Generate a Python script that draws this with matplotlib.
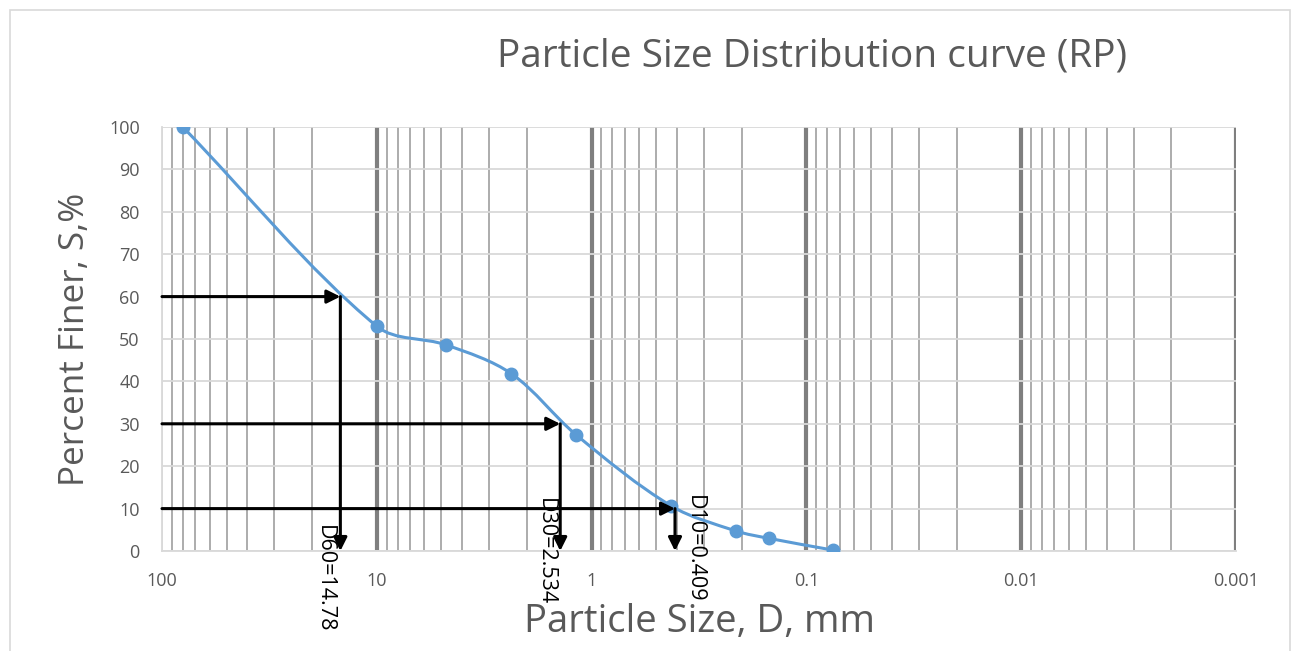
"""
Particle size distribution (sieve analysis) for sample RP.
Log x axis runs from coarse (100 mm) to fine (0.001 mm), Excel-style smoothed
curve, with D60 / D30 / D10 read-off arrows.
"""

import numpy as np
import matplotlib
matplotlib.use("Agg")                     # no display in the sandbox
import matplotlib.pyplot as plt
from matplotlib.path import Path
from matplotlib.patches import PathPatch, Rectangle

# sieve data
SIEVE_MM = [80, 10, 4.75, 2.36, 1.18, 0.425, 0.212, 0.15, 0.075]
PCT_FINER = [100, 53.0, 48.6, 41.8, 27.4, 10.6, 4.7, 3.0, 0.2]

# read-off arrows: level (% finer), where the arrow drops (mm), label text
D_LEVELS = [60, 30, 10]
D_ARROW_MM = [14.78, 1.40, 0.409]
D_LABELS = ["D60=14.78", "D30=2.534", "D10=0.409"]

X_TICKS = [100, 10, 1, 0.1, 0.01, 0.001]
X_TICKLABELS = ["100", "10", "1", "0.1", "0.01", "0.001"]
Y_TICKS = list(range(0, 101, 10))

BLUE = "#5b9bd5"
GREY_TXT = "#595959"
FONT = "Open Sans"
DPI = 100

# axes box in pixels (used for the smoothing, which works in screen space)
AX_W, AX_H = 1074, 424


def smooth_path(xs, ys):
    """Bezier path through the points, tangents normalised by chord length
    in screen space (close to Excel's 'smoothed line')."""
    sx = np.log10(xs) * AX_W / 5.0          # 5 decades across the axes
    sy = np.asarray(ys, dtype=float) * AX_H / 100.0
    P = np.column_stack([sx, sy])
    n = len(P)
    seg = np.linalg.norm(np.diff(P, axis=0), axis=1)
    tang = np.zeros_like(P)
    for i in range(n):
        a, b = max(i - 1, 0), min(i + 1, n - 1)
        la = seg[i - 1] if i > 0 else 0
        lb = seg[i] if i < n - 1 else 0
        tang[i] = (P[b] - P[a]) / (la + lb)
    verts = [P[0]]
    codes = [Path.MOVETO]
    for i in range(n - 1):
        c1 = P[i] + tang[i] * seg[i] / 3
        c2 = P[i + 1] - tang[i + 1] * seg[i] / 3
        verts += [c1, c2, P[i + 1]]
        codes += [Path.CURVE4] * 3
    verts = np.array(verts)
    data = np.column_stack([10 ** (verts[:, 0] * 5.0 / AX_W), verts[:, 1] * 100.0 / AX_H])
    return Path(data, codes)


fig = plt.figure(figsize=(12.96, 6.51), dpi=DPI)
ax = fig.add_axes([162 / 1296, 100 / 651, AX_W / 1296, AX_H / 651])

# light outer chart frame
fig.patches.append(Rectangle((10 / 1296, -0.1), 1280 / 1296, 1.1 - 10 / 651,
                             transform=fig.transFigure, fill=False,
                             edgecolor="#d9d9d9", lw=1.2))

ax.set_xscale("log")
ax.set_xlim(100, 0.001)
ax.set_ylim(0, 100)

# grid: thick decade lines, thinner 2..9 lines, light horizontals
ax.set_xticks(X_TICKS)
ax.set_xticklabels(X_TICKLABELS)
ax.xaxis.set_minor_locator(matplotlib.ticker.LogLocator(base=10, subs=np.arange(2, 10)))
ax.xaxis.set_minor_formatter(matplotlib.ticker.NullFormatter())
ax.set_yticks(Y_TICKS)
ax.grid(which="major", axis="x", color="#7f7f7f", lw=3.0)
ax.grid(which="minor", axis="x", color="#a6a6a6", lw=1.3)
ax.grid(which="major", axis="y", color="#d9d9d9", lw=1.3)
for t in ax.xaxis.get_major_ticks():
    if t.get_loc() == 100:
        t.gridline.set_color("#d9d9d9")
        t.gridline.set_linewidth(1.3)
ax.set_axisbelow(True)

for s in ["top", "right"]:
    ax.spines[s].set_visible(False)
for s in ["left", "bottom"]:
    ax.spines[s].set_color("#d9d9d9")
    ax.spines[s].set_linewidth(1.3)

ax.tick_params(which="both", length=0)
ax.tick_params(axis="y", pad=16, labelsize=13, labelcolor=GREY_TXT)
ax.tick_params(axis="x", pad=15, labelsize=13, labelcolor=GREY_TXT)
for lab in ax.get_xticklabels() + ax.get_yticklabels():
    lab.set_family(FONT)

# smoothed curve + markers
ax.add_patch(PathPatch(smooth_path(SIEVE_MM, PCT_FINER), fill=False,
                       edgecolor=BLUE, lw=2.2, zorder=3))
ax.plot(SIEVE_MM, PCT_FINER, "o", color=BLUE, ms=9, zorder=4)

# D-value arrows and labels
label_off = [(-16, 26), (-15, 53), (19, 56)]     # pixels from the arrow foot
arrow_kw = dict(arrowstyle="-|>", color="black", lw=2.2, mutation_scale=20,
                shrinkA=0, shrinkB=0)
for lvl, dmm, txt, off in zip(D_LEVELS, D_ARROW_MM, D_LABELS, label_off):
    ax.annotate("", xy=(dmm, lvl), xytext=(100, lvl), arrowprops=arrow_kw, zorder=5)
    ax.annotate("", xy=(dmm, 0), xytext=(dmm, lvl), arrowprops=arrow_kw, zorder=5)
    ax.annotate(txt, xy=(dmm, 0), xytext=off, textcoords="offset pixels",
                rotation=270, ha="center", va="top", fontsize=15.5,
                family=FONT, color="black", annotation_clip=False)

fig.text(812 / 1296, 1 - 57 / 651, "Particle Size Distribution curve (RP)",
         ha="center", va="center", fontsize=28, family=FONT, color=GREY_TXT)
fig.text(75 / 1296, 1 - 339 / 651, "Percent Finer, S,%", rotation=90,
         ha="center", va="center", fontsize=25.3, family=FONT, color=GREY_TXT)
fig.text(700 / 1296, 1 - 622 / 651, "Particle Size, D, mm",
         ha="center", va="center", fontsize=27.5, family=FONT, color=GREY_TXT)

fig.savefig("out.png", dpi=DPI, facecolor="white")
